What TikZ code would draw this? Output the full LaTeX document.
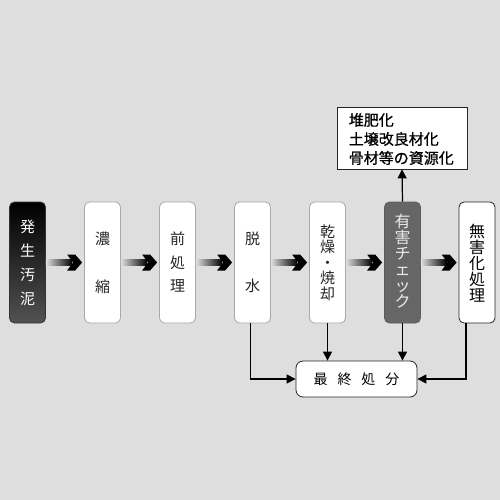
\documentclass[tikz,border=0pt]{standalone}
\usepackage{fontspec}
\newfontfamily\cjk{Noto Sans CJK JP}
\newfontfamily\cjkb[FakeBold=0.9]{Noto Sans CJK JP}
\usetikzlibrary{arrows.meta,calc}
\definecolor{bg}{HTML}{DEDEDE}
\definecolor{boxline}{HTML}{A8A8A8}
\definecolor{chk}{HTML}{666666}
\tikzset{
  stagebox/.style={rectangle, rounded corners=5pt, minimum width=36pt, minimum height=121pt, inner sep=0pt, fill=white, draw=boxline, line width=0.8pt},
  vtext/.style={align=center, inner sep=0pt, text=black!85},
  flow/.style={line width=1.2pt, -{Triangle[length=9pt,width=9pt]}},
}
\newcommand{\gradarrow}[2]{%
  \shade[left color=bg, right color=black] ($(#1.east)+(0,3)$) rectangle ($(#2.west)+(-12,-3)$);
  \fill[black] ($(#2.west)+(-17,8)$) -- ($(#2.west)+(-9,8)$) -- ($(#2.west)+(-2,0)$) -- ($(#2.west)+(-9,-8)$) -- ($(#2.west)+(-17,-8)$) -- ($(#2.west)+(-11,0)$) -- cycle;}
\begin{document}
\begin{tikzpicture}[x=1pt,y=-1pt]
\fill[bg] (0,0) rectangle (500,500);
\useasboundingbox (0,0) rectangle (500,500);
% stage boxes
\node[stagebox, top color=black, bottom color=black!68, draw=black!80] (b1) at (27.5,262.5) {};
\node[stagebox] (b2) at (102.5,262.5) {};
\node[stagebox] (b3) at (177.5,262.5) {};
\node[stagebox] (b4) at (252.5,262.5) {};
\node[stagebox] (b5) at (327.5,262.5) {};
\node[stagebox, fill=chk, draw=chk!90!black] (b6) at (402.5,262.5) {};
\node[stagebox, draw=black!85] (b7) at (477,262.5) {};
% texts
\node[vtext, text=white, font=\cjk\fontsize{15}{24}\selectfont] (t1) at (b1) {発\\生\\汚\\泥};
\node[vtext, font=\cjk\fontsize{15}{48}\selectfont] (t2) at (b2) {濃\\縮};
\node[vtext, font=\cjk\fontsize{15}{23.5}\selectfont] (t3) at (b3) {前\\処\\理};
\node[vtext, font=\cjk\fontsize{15}{47}\selectfont] (t4) at (b4) {脱\\水};
\node[vtext, font=\cjk\fontsize{15}{15.5}\selectfont] (t5) at (b5) {乾\\燥\\・\\焼\\却};
\node[vtext, text=white!92!black, font=\cjk\fontsize{16}{16}\selectfont] (t6) at ($(b6)+(0,-1.5)$) {有\\害\\チ\\ェ\\ッ\\ク};
\node[vtext, text=black, font=\cjk\fontsize{16}{16}\selectfont] (t7) at ($(b7)+(0,1)$) {無\\害\\化\\処\\理};
% gradient arrows
\gradarrow{b1}{b2}
\gradarrow{b2}{b3}
\gradarrow{b3}{b4}
\gradarrow{b4}{b5}
\gradarrow{b5}{b6}
\gradarrow{b6}{b7}
% top box
\node[draw=black!85, fill=white, line width=0.8pt, minimum width=130pt, minimum height=62pt, inner sep=0pt] (top) at (402,138) {};
\node[anchor=west, align=left, inner sep=0pt, font=\cjkb\fontsize{15}{19}\selectfont] (toptext) at ($(top.west)+(12,1)$) {堆肥化\\土壌改良材化\\骨材等の資源化};
% final box
\node[draw=black!85, fill=white, rounded corners=7pt, line width=0.8pt, minimum width=121pt, minimum height=36pt, inner sep=0pt, font=\cjk\fontsize{14}{14}\selectfont] (fin) at (356.5,379) {最\hspace{10pt}終\hspace{10pt}処\hspace{10pt}分};
% connectors
\draw[flow] (b6.north) -- (top.south);
\draw[flow] ($(b4.south)+(-2,0)$) |- (fin.west);
\draw[flow] (b5.south) -- (b5.south |- fin.north);
\draw[flow] (b6.south) -- (b6.south |- fin.north);
\draw[flow] ($(b7.south)+(-11,0)$) |- (fin.east);
\end{tikzpicture}
\end{document}
